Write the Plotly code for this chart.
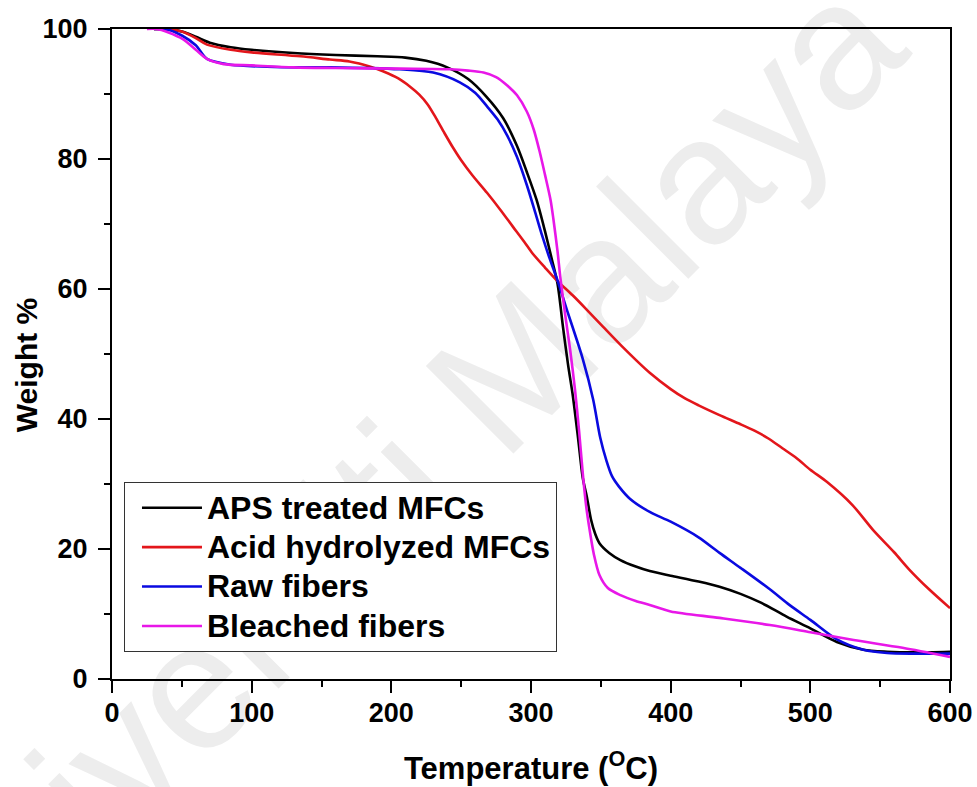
import plotly.graph_objects as go

# ---- data ----
aps_T = [30, 40, 50, 60, 70, 85, 100, 130, 160, 190, 210, 225, 240, 255, 268, 280, 290, 297, 304, 310,
         315, 319, 323, 326.5, 330, 334, 337, 340, 343, 346, 349, 356, 364, 375, 385, 400, 420, 435, 450,
         465, 483, 500, 519, 538, 555, 575, 600]
aps_W = [100, 100, 99.6, 98.8, 97.9, 97.2, 96.8, 96.3, 96.0, 95.8, 95.6, 95.1, 94.1, 92.3, 89.6, 86.3, 82.0,
         78.0, 73.7, 68.9, 64.5, 60.8, 54.0, 48.4, 43.5, 36.5, 31.0, 28.0, 24.5, 22.3, 20.9, 19.4, 18.3,
         17.3, 16.6, 15.9, 15.0, 14.2, 13.1, 11.7, 9.6, 7.8, 5.7, 4.5, 4.2, 4.1, 4.2]

acid_T = [30, 40, 50, 60, 68, 85, 100, 135, 156, 170, 185, 194, 205, 213, 220, 226, 232, 238, 244, 250,
          258, 268.5, 278, 287, 295, 301, 310, 318.6, 330, 340, 351.5, 365, 385, 400, 410, 420, 435, 450,
          460, 470, 480, 490, 500, 512, 530, 545, 560, 571, 585, 600]
acid_W = [100, 100, 99.6, 98.6, 97.6, 96.8, 96.4, 95.8, 95.3, 95.0, 94.2, 93.5, 92.4, 91.2, 89.9, 88.4, 86.3,
          84.0, 81.8, 79.8, 77.5, 74.8, 72.2, 69.6, 67.3, 65.5, 63.3, 61.3, 59.0, 56.8, 54.2, 51.2, 47.1,
          44.6, 43.2, 42.1, 40.6, 39.2, 38.2, 37.0, 35.5, 34.0, 32.2, 30.3, 26.8, 22.9, 19.5, 16.8, 13.8, 10.9]

raw_T = [30, 40, 50, 60, 68, 85, 111, 135, 156, 206, 230, 249, 260, 268.5, 276, 283, 290, 297, 303, 308,
         313, 319.5, 326, 330, 337, 344.5, 349.5, 354, 358, 363, 371, 385, 400, 420, 435, 450, 471, 485,
         500, 519, 538, 555, 575, 600]
raw_W = [100, 99.9, 99.0, 97.5, 95.4, 94.5, 94.2, 94.1, 94.1, 93.8, 93.3, 91.8, 90.2, 88.1, 86.1, 83.6, 80.3,
         76.0, 71.8, 68.2, 64.9, 61.0, 56.6, 54.0, 49.3, 43.0, 37.2, 33.6, 31.2, 29.6, 27.7, 25.7, 24.2,
         21.8, 19.4, 17.1, 13.8, 11.4, 9.1, 6.1, 4.5, 4.0, 3.9, 3.9]

bleach_T = [25, 32, 40, 51, 60, 68, 80, 100, 130, 160, 206, 242, 255, 266, 275, 283, 290, 297, 302, 306,
            310, 314, 316, 319, 321, 324.5, 328, 331.5, 334.5, 337, 339.5, 342, 345, 349, 355, 364, 375,
            385, 400, 435, 471, 500, 531, 566, 600]
bleach_W = [100, 100, 99.5, 98.4, 96.8, 95.4, 94.6, 94.4, 94.1, 94.0, 93.9, 93.8, 93.6, 93.3, 92.6, 91.3,
            89.8, 87.3, 84.5, 81.3, 77.6, 73.7, 70.8, 65.8, 61.8, 56.0, 50.7, 44.5, 38.0, 31.8, 26.6, 22.9,
            19.2, 16.0, 14.0, 12.9, 12.0, 11.4, 10.4, 9.4, 8.3, 7.2, 6.0, 4.8, 3.4]

series_names = ["APS treated MFCs", "Acid hydrolyzed MFCs", "Raw fibers", "Bleached fibers"]
series_colors = ["#000000", "#e3161b", "#0a0ae0", "#e817e8"]

x_ticks = [0, 100, 200, 300, 400, 500, 600]
y_ticks = [0, 20, 40, 60, 80, 100]

FONT = "Arial, Liberation Sans, sans-serif"

fig = go.Figure()
for name, color, T, W in zip(series_names, series_colors,
                             [aps_T, acid_T, raw_T, bleach_T],
                             [aps_W, acid_W, raw_W, bleach_W]):
    fig.add_trace(go.Scatter(x=T, y=W, mode="lines",
                             name='<span style="font-size:32px">' + name + '</span>',
                             line=dict(color=color, width=2.6, shape="spline", smoothing=0.8)))

axis_common = dict(showline=True, linecolor="black", linewidth=2, mirror=True, automargin=False,
                   showgrid=False, zeroline=False, ticks="outside", ticklen=12, tickwidth=2,
                   tickcolor="black",
                   tickfont=dict(family=FONT, size=27, color="black", weight="bold"))

fig.update_xaxes(range=[0, 600], tickvals=x_ticks,
                 minor=dict(dtick=50, ticks="outside", ticklen=6, tickwidth=2, tickcolor="black"),
                 title=dict(text="Temperature (<sup>O</sup>C)", standoff=30,
                            font=dict(family=FONT, size=31, color="black", weight="bold")),
                 ticklabelstandoff=-3,
                 **axis_common)
fig.update_yaxes(range=[0, 100], tickvals=y_ticks,
                 minor=dict(dtick=10, ticks="outside", ticklen=6, tickwidth=2, tickcolor="black"),
                 ticklabelstandoff=5,
                 **axis_common)

# y-axis title placed as an annotation (closer to the ticks than a standoff allows)
fig.add_annotation(text="Weight %", xref="paper", yref="paper", x=-0.102, y=0.482,
                   xanchor="center", yanchor="middle", textangle=-90, showarrow=False,
                   font=dict(family=FONT, size=30, color="black", weight="bold"))

# faint watermark behind the data
fig.add_shape(type="rect", xref="paper", yref="paper", x0=0.301, x1=0.321, y0=0.293, y1=0.313,
              line=dict(width=0), fillcolor="rgba(0,0,0,0)", layer="below",
              label=dict(text="Universiti Malaya", textangle=-45, textposition="middle center",
                         font=dict(family=FONT, size=180, color="#ededed")))

fig.update_layout(
    width=977, height=787,
    margin=dict(l=112, r=27, t=29, b=108),
    paper_bgcolor="white", plot_bgcolor="rgba(0,0,0,0)",
    showlegend=True,
    legend=dict(x=0.0143, y=0.303, xanchor="left", yanchor="top",
                bgcolor="white", bordercolor="#333333", borderwidth=1,
                font=dict(family=FONT, size=28, color="black", weight="bold"),
                itemwidth=60, indentation=12, tracegroupgap=0),
)

fig.write_html("out.html")
